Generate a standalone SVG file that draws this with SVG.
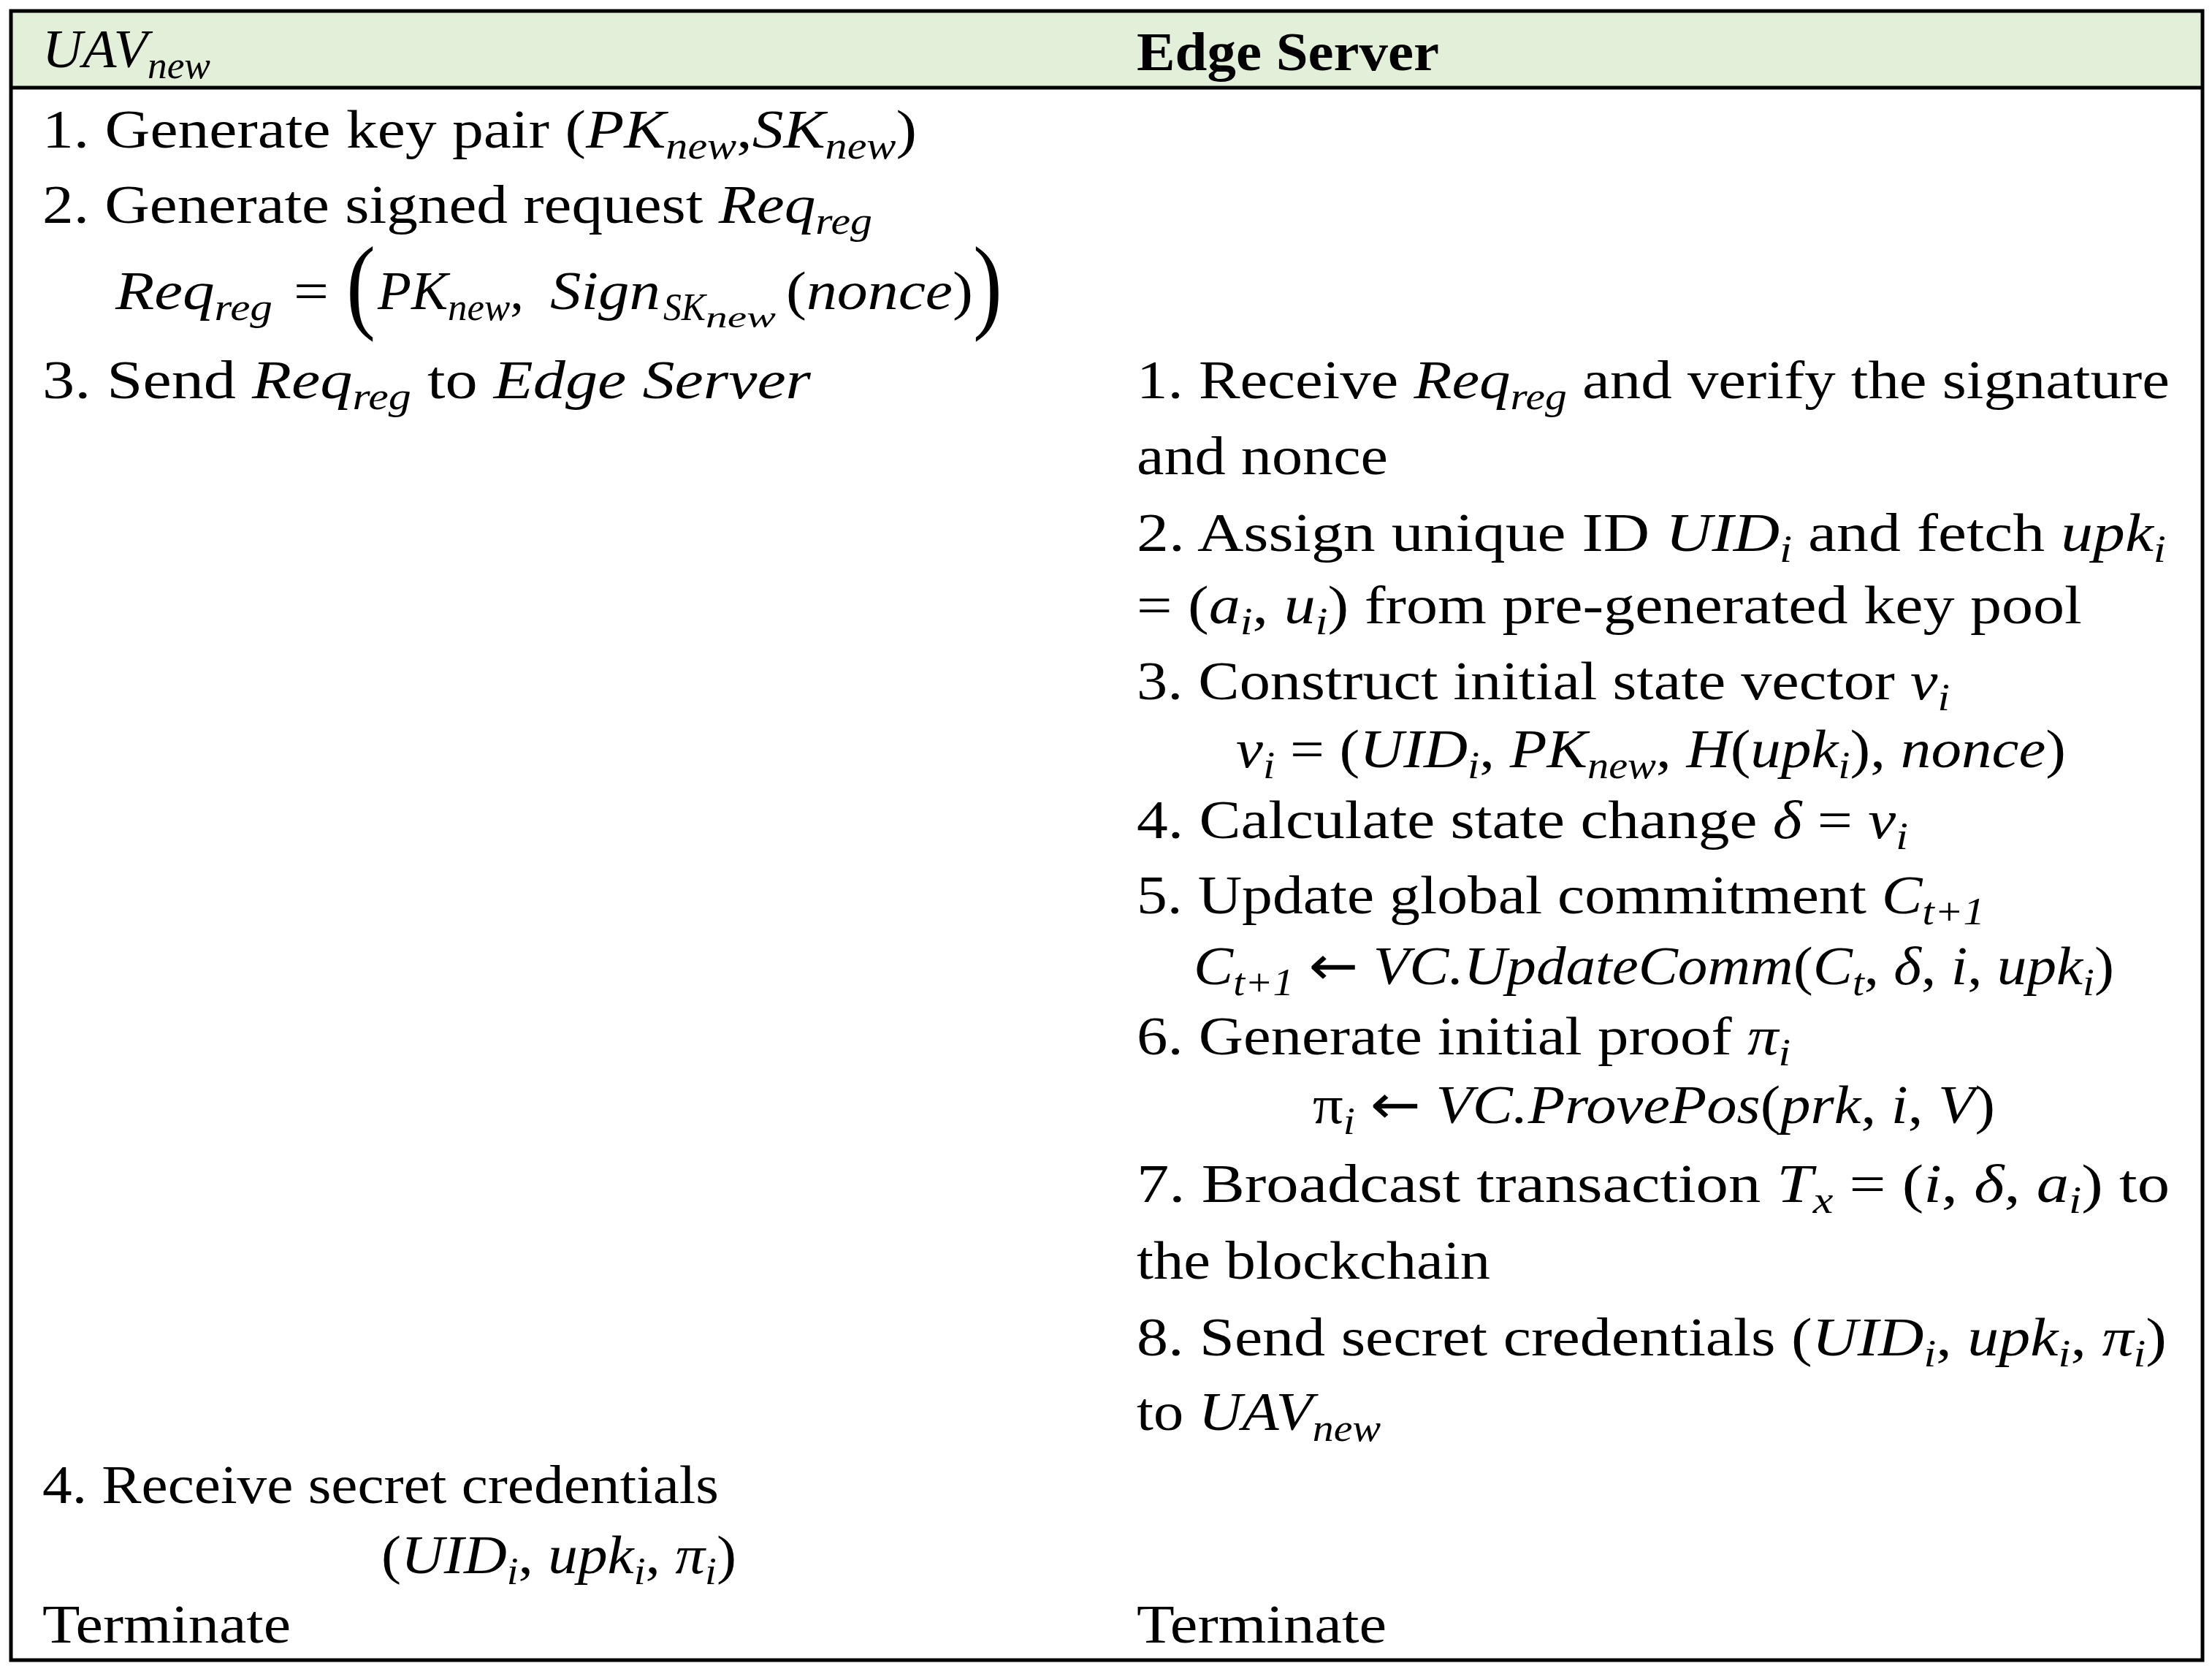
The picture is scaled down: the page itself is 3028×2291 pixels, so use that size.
<svg xmlns="http://www.w3.org/2000/svg" width="3028" height="2291" viewBox="0 0 3028 2291">
<style>
text { font-family: "Liberation Serif", "Times New Roman", serif; font-size: 74px; fill: #000; }
.m { font-style: italic; }
.s { font-size: 52px; font-style: italic; }
.ss { font-size: 40px; font-style: italic; }
.b { font-weight: bold; }
.ar { font-family: "DejaVu Sans", sans-serif; font-style: normal; }
</style>
<rect x="0" y="0" width="3028" height="2291" fill="#fff"/>
<g id="table">
  <rect x="15" y="15" width="3000" height="104" fill="#E2EFD9"/>
  <rect x="15" y="15" width="3000" height="2257" fill="none" stroke="#000" stroke-width="5"/>
  <line x1="15" y1="120" x2="3015" y2="120" stroke="#000" stroke-width="5"/>
</g>
<g id="header">
  <text x="58" y="92" textLength="230" lengthAdjust="spacingAndGlyphs"><tspan class="m">UAV</tspan><tspan class="s" dy="15">new</tspan></text>
  <text x="1556" y="96" class="b" textLength="414" lengthAdjust="spacingAndGlyphs">Edge Server</text>
</g>
<g id="uav-column">
  <text x="58" y="202" textLength="1197" lengthAdjust="spacingAndGlyphs">1. Generate key pair  (<tspan class="m">PK</tspan><tspan class="s" dy="15">new</tspan><tspan dy="-15">,</tspan><tspan class="m">SK</tspan><tspan class="s" dy="15">new</tspan><tspan dy="-15">)</tspan></text>
  <text x="58" y="305" textLength="1136" lengthAdjust="spacingAndGlyphs">2. Generate signed request <tspan class="m">Req</tspan><tspan class="s" dy="15">reg</tspan></text>
  <text x="158" y="423" textLength="215" lengthAdjust="spacingAndGlyphs"><tspan class="m">Req</tspan><tspan class="s" dy="15">reg</tspan></text>
  <text x="402" y="423" textLength="48" lengthAdjust="spacingAndGlyphs">=</text>
  <text x="474" y="437" textLength="40" lengthAdjust="spacingAndGlyphs" style="font-size:144px">(</text>
  <text x="517" y="423" textLength="200" lengthAdjust="spacingAndGlyphs"><tspan class="m">PK</tspan><tspan class="s" dy="15">new</tspan><tspan dy="-15">,</tspan></text>
  <text x="753" y="423" textLength="151" lengthAdjust="spacingAndGlyphs" class="m">Sign</text>
  <text x="908" y="438" class="s" textLength="58" lengthAdjust="spacingAndGlyphs">SK</text>
  <text x="966" y="448" class="ss" textLength="96" lengthAdjust="spacingAndGlyphs">new</text>
  <text x="1076" y="423" textLength="256" lengthAdjust="spacingAndGlyphs">(<tspan class="m">nonce</tspan>)</text>
  <text x="1332" y="437" textLength="40" lengthAdjust="spacingAndGlyphs" style="font-size:144px">)</text>
  <text x="58" y="545" textLength="1052" lengthAdjust="spacingAndGlyphs">3. Send <tspan class="m">Req</tspan><tspan class="s" dy="15">reg</tspan><tspan dy="-15"> to </tspan><tspan class="m">Edge Server</tspan></text>
  <text x="58" y="2057" textLength="926" lengthAdjust="spacingAndGlyphs">4. Receive secret credentials</text>
  <text x="522" y="2153" textLength="486" lengthAdjust="spacingAndGlyphs">(<tspan class="m">UID</tspan><tspan class="s" dy="15">i</tspan><tspan dy="-15">, </tspan><tspan class="m">upk</tspan><tspan class="s" dy="15">i</tspan><tspan dy="-15">, </tspan><tspan class="m">π</tspan><tspan class="s" dy="15">i</tspan><tspan dy="-15">)</tspan></text>
  <text x="58" y="2248" textLength="340" lengthAdjust="spacingAndGlyphs">Terminate</text>
</g>
<g id="edge-server-column">
  <text x="1556" y="545" textLength="1414" lengthAdjust="spacingAndGlyphs">1. Receive  <tspan class="m">Req</tspan><tspan class="s" dy="15">reg</tspan><tspan dy="-15">  and verify the signature</tspan></text>
  <text x="1556" y="649" textLength="344" lengthAdjust="spacingAndGlyphs">and nonce</text>
  <text x="1556" y="754" textLength="1409" lengthAdjust="spacingAndGlyphs">2. Assign unique ID <tspan class="m">UID</tspan><tspan class="s" dy="15">i</tspan><tspan dy="-15"> and fetch </tspan><tspan class="m">upk</tspan><tspan class="s" dy="15">i</tspan></text>
  <text x="1556" y="853" textLength="1294" lengthAdjust="spacingAndGlyphs">= (<tspan class="m">a</tspan><tspan class="s" dy="15">i</tspan><tspan dy="-15">, </tspan><tspan class="m">u</tspan><tspan class="s" dy="15">i</tspan><tspan dy="-15">)  from pre-generated key pool</tspan></text>
  <text x="1556" y="957" textLength="1113" lengthAdjust="spacingAndGlyphs">3. Construct initial state vector  <tspan class="m">v</tspan><tspan class="s" dy="15">i</tspan></text>
  <text x="1692" y="1050" textLength="1136" lengthAdjust="spacingAndGlyphs"><tspan class="m">v</tspan><tspan class="s" dy="15">i</tspan><tspan dy="-15"> = (</tspan><tspan class="m">UID</tspan><tspan class="s" dy="15">i</tspan><tspan dy="-15">, </tspan><tspan class="m">PK</tspan><tspan class="s" dy="15">new</tspan><tspan dy="-15">, </tspan><tspan class="m">H</tspan>(<tspan class="m">upk</tspan><tspan class="s" dy="15">i</tspan><tspan dy="-15">), </tspan><tspan class="m">nonce</tspan>)</text>
  <text x="1556" y="1147" textLength="1056" lengthAdjust="spacingAndGlyphs">4. Calculate state change  <tspan class="m">δ</tspan> = <tspan class="m">v</tspan><tspan class="s" dy="15">i</tspan></text>
  <text x="1556" y="1250" textLength="1161" lengthAdjust="spacingAndGlyphs">5. Update global commitment  <tspan class="m">C</tspan><tspan class="s" dy="15">t+1</tspan></text>
  <text x="1634" y="1347" textLength="1260" lengthAdjust="spacingAndGlyphs"><tspan class="m">C</tspan><tspan class="s" dy="15">t+1</tspan><tspan dy="-15"> </tspan><tspan class="ar">←</tspan> <tspan class="m">VC.UpdateComm</tspan>(<tspan class="m">C</tspan><tspan class="s" dy="15">t</tspan><tspan dy="-15">, </tspan><tspan class="m">δ</tspan>, <tspan class="m">i</tspan>, <tspan class="m">upk</tspan><tspan class="s" dy="15">i</tspan><tspan dy="-15">)</tspan></text>
  <text x="1556" y="1443" textLength="895" lengthAdjust="spacingAndGlyphs">6. Generate initial proof  <tspan class="m">π</tspan><tspan class="s" dy="15">i</tspan></text>
  <text x="1797" y="1537" textLength="934" lengthAdjust="spacingAndGlyphs">π<tspan class="s" dy="15">i</tspan><tspan dy="-15"> </tspan><tspan class="ar">←</tspan> <tspan class="m">VC.ProvePos</tspan>(<tspan class="m">prk</tspan>, <tspan class="m">i</tspan>, <tspan class="m">V</tspan>)</text>
  <text x="1556" y="1645" textLength="1414" lengthAdjust="spacingAndGlyphs">7.  Broadcast  transaction  <tspan class="m">T</tspan><tspan class="s" dy="15">x</tspan><tspan dy="-15"> = (</tspan><tspan class="m">i</tspan>, <tspan class="m">δ</tspan>, <tspan class="m">a</tspan><tspan class="s" dy="15">i</tspan><tspan dy="-15">)  to</tspan></text>
  <text x="1556" y="1750" textLength="484" lengthAdjust="spacingAndGlyphs">the blockchain</text>
  <text x="1556" y="1855" textLength="1410" lengthAdjust="spacingAndGlyphs">8.  Send  secret  credentials  (<tspan class="m">UID</tspan><tspan class="s" dy="15">i</tspan><tspan dy="-15">, </tspan><tspan class="m">upk</tspan><tspan class="s" dy="15">i</tspan><tspan dy="-15">, </tspan><tspan class="m">π</tspan><tspan class="s" dy="15">i</tspan><tspan dy="-15">)</tspan></text>
  <text x="1556" y="1957" textLength="334" lengthAdjust="spacingAndGlyphs">to <tspan class="m">UAV</tspan><tspan class="s" dy="15">new</tspan></text>
  <text x="1556" y="2248" textLength="342" lengthAdjust="spacingAndGlyphs">Terminate</text>
</g>
</svg>
